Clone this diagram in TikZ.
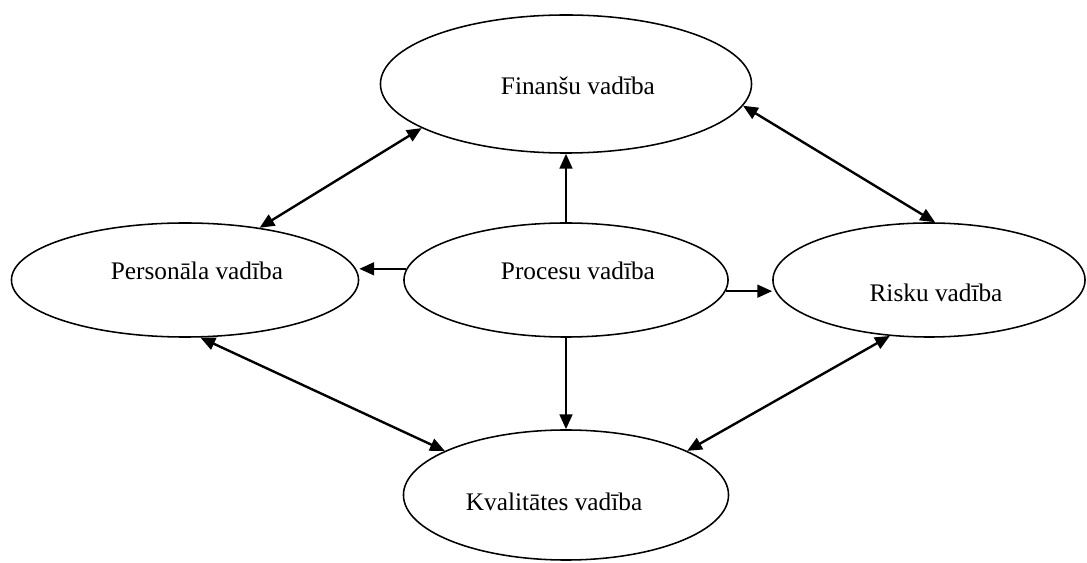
\documentclass[tikz,border=0pt]{standalone}
\usepackage{fontspec}
\setmainfont{Liberation Serif}
\usetikzlibrary{shapes.geometric,arrows.meta}

\begin{document}
\begin{tikzpicture}[x=0.025cm, y=-0.025cm,
	font=\fontsize{18}{22}\selectfont,
	vadiba/.style = {ellipse, draw, line width=1.1pt, inner sep=0pt},
	bulta/.style = {-{Triangle[length=10.5pt,width=9pt]}, line width=1.7pt},
	abas/.style = {{Triangle[length=10.5pt,width=9pt]}-{Triangle[length=10.5pt,width=9pt]}, line width=1.7pt}]
	\useasboundingbox (0,0) rectangle (1087,563);

	\node[vadiba, minimum width=9.275cm, minimum height=3.45cm,
		label={[xshift=8.5pt,yshift=-1.4pt]center:Finanšu vadība}] (fin) at (566,84) {};
	\node[vadiba, minimum width=8.675cm, minimum height=2.85cm,
		label={[xshift=8.5pt,yshift=6.4pt]center:Personāla vadība}] (pers) at (185,280) {};
	\node[vadiba, minimum width=8.1cm, minimum height=2.85cm,
		label={[xshift=8.5pt,yshift=6.4pt]center:Procesu vadība}] (proc) at (566,280) {};
	\node[vadiba, minimum width=7.8cm, minimum height=2.85cm,
		label={[xshift=5pt,yshift=-9.2pt]center:Risku vadība}] (risk) at (929,280) {};
	\node[vadiba, minimum width=8.125cm, minimum height=3.25cm,
		label={[xshift=-8.5pt,yshift=-5pt]center:Kvalitātes vadība}] (kval) at (566,495) {};

	\draw[bulta] (proc.north) -- (fin.south);
	\draw[bulta] (proc.south) -- (kval.north);
	\draw[bulta] (proc.176) -- (proc.176 -| pers.east);
	\draw[bulta] (proc.-4) -- (proc.-4 -| risk.west);

	\draw[abas] (pers.35) -- (fin.197);
	\draw[abas] (fin.-7) -- (risk.84);
	\draw[abas] (pers.-75) -- (kval.160);
	\draw[abas] (risk.235) -- (kval.20);

\end{tikzpicture}
\end{document}
